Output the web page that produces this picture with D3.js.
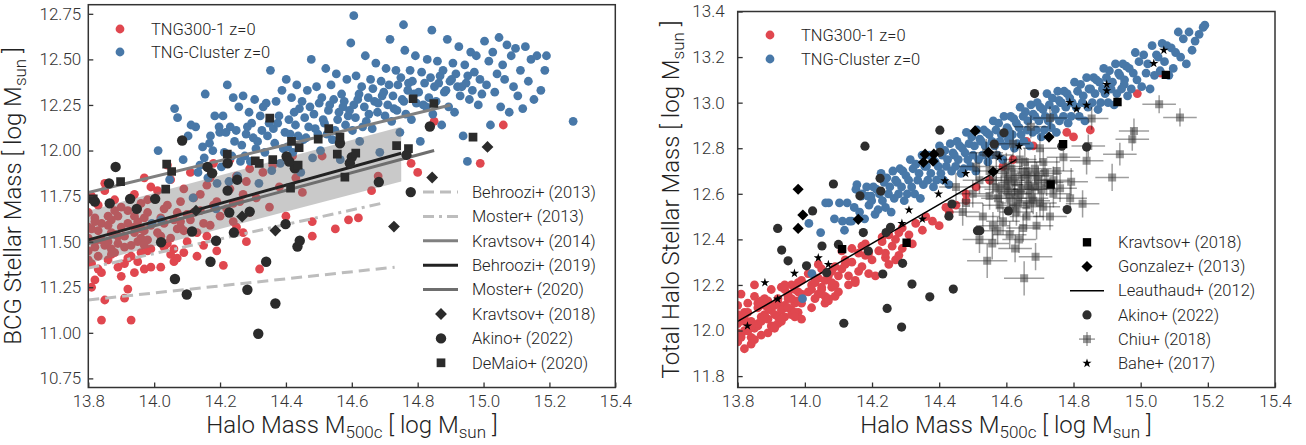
<!DOCTYPE html>
<html>
<head>
<meta charset="utf-8">
<script src="https://cdn.jsdelivr.net/npm/d3@7"></script>
<style>
  body { margin: 0; background: #fff; }
  svg { font-family: Roboto, "Open Sans", sans-serif; font-weight: 300; }
</style>
</head>
<body>
<svg id="chart" width="1306" height="445"></svg>
<script>
// ---- data ----
// TNG halos: [log M500c, log M_BCG, log M_star,total]
const tng300 = [
  [13.80,11.52,12.03],[13.81,11.38,11.98],[13.82,11.61,12.08],[13.80,11.45,11.95],[13.83,11.70,12.12],
  [13.84,11.33,11.97],[13.81,11.57,12.05],[13.85,11.48,12.01],[13.86,11.64,12.10],[13.82,11.29,11.92],
  [13.87,11.55,12.06],[13.83,11.42,12.00],[13.88,11.73,12.14],[13.84,11.60,12.04],[13.89,11.36,11.99],
  [13.80,11.66,12.11],[13.86,11.50,12.02],[13.85,11.18,11.96],[13.88,11.44,12.07],[13.90,11.58,12.09],
  [13.81,11.75,12.16],[13.87,11.62,12.13],[13.82,11.47,12.00],[13.89,11.53,12.05],[13.84,11.07,11.94],
  [13.86,11.40,12.03],[13.83,11.56,12.08],[13.88,11.67,12.11],[13.90,11.31,12.02],[13.80,11.40,11.99],
  [13.85,11.78,12.15],[13.87,11.46,12.04],[13.82,11.63,12.06],[13.89,11.49,12.10],[13.81,11.25,11.97],
  [13.86,11.59,12.12],[13.84,11.51,12.02],[13.90,11.69,12.18],[13.83,11.35,12.00],[13.88,11.54,12.06],
  [13.85,11.82,12.20],[13.87,11.43,11.98],[13.80,11.58,12.07],[13.89,11.64,12.13],[13.82,11.50,12.04],
  [13.91,11.47,12.07],[13.92,11.60,12.12],[13.93,11.07,12.04],[13.94,11.55,12.10],[13.95,11.68,12.16],
  [13.91,11.38,12.02],[13.96,11.52,12.09],[13.92,11.24,12.06],[13.97,11.63,12.13],[13.93,11.74,12.19],
  [13.98,11.45,12.08],[13.94,11.58,12.11],[13.99,11.36,12.05],[13.95,11.50,12.14],[13.96,11.71,12.20],
  [13.92,11.41,12.03],[13.97,11.56,12.12],[13.98,11.66,12.17],[13.93,11.48,12.09],[13.99,11.80,12.22],
  [13.94,11.33,12.06],[13.95,11.61,12.15],[13.91,11.53,12.11],[13.96,11.44,12.07],[13.97,11.85,12.18],
  [13.98,11.51,12.13],[13.99,11.59,12.16],[13.92,11.67,12.14],[13.93,11.42,12.05],[13.94,11.64,12.18],
  [13.95,11.39,12.10],[13.96,11.57,12.14],[13.97,11.48,12.08],[13.98,11.73,12.21],[13.99,11.46,12.12],
  [13.91,11.19,12.01],[13.94,11.76,12.20],[13.97,11.35,12.06],
  [14.01,11.55,12.17],[14.02,11.63,12.20],[14.03,11.47,12.14],[14.04,11.70,12.23],[14.05,11.52,12.18],
  [14.06,11.39,12.12],[14.07,11.66,12.24],[14.08,11.58,12.19],[14.09,11.44,12.15],[14.01,11.78,12.25],
  [14.02,11.36,12.10],[14.03,11.60,12.21],[14.04,11.49,12.16],[14.05,11.84,12.27],[14.06,11.62,12.22],
  [14.07,11.41,12.13],[14.08,11.72,12.26],[14.09,11.56,12.20],[14.10,11.65,12.24],[14.02,11.53,12.18],
  [14.04,11.92,12.29],[14.06,11.46,12.15],[14.08,11.61,12.21],[14.10,11.50,12.17],[14.03,11.68,12.22],
  [14.05,11.43,12.19],[14.07,11.57,12.14],[14.09,11.79,12.28],
  [14.11,11.62,12.27],[14.12,11.74,12.31],[14.13,11.55,12.24],[14.14,11.67,12.30],[14.15,11.48,12.22],
  [14.16,11.81,12.34],[14.17,11.59,12.28],[14.18,11.70,12.33],[14.19,11.45,12.25],[14.20,11.64,12.31],
  [14.11,11.88,12.35],[14.13,11.42,12.20],[14.14,11.76,12.36],[14.16,11.53,12.26],[14.18,11.93,12.38],
  [14.12,11.66,12.29],[14.15,11.60,12.21],[14.17,11.85,12.37],[14.19,11.72,12.34],[14.21,11.37,12.24],
  [14.22,11.68,12.35],[14.23,11.79,12.39],[14.24,11.61,12.32],[14.25,11.86,12.42],[14.26,11.72,12.37],
  [14.27,11.55,12.31],[14.28,11.83,12.43],[14.29,11.66,12.36],[14.23,11.95,12.41],[14.25,11.58,12.29],
  [14.27,11.76,12.40],[14.29,11.90,12.45],[14.24,11.71,12.34],[14.28,11.50,12.33],
  [14.31,11.74,12.42],[14.32,11.35,12.38],[14.33,11.88,12.47],[14.35,11.69,12.44],[14.36,11.92,12.50],
  [14.38,11.80,12.48],[14.40,11.64,12.46],[14.42,11.97,12.54],[14.43,11.85,12.52],[14.45,11.77,12.55],
  [14.48,11.53,12.57],[14.48,11.61,12.60],[14.51,11.97,12.63],[14.55,11.57,12.66],[14.59,11.62,12.72],
  [14.62,11.63,12.75],[14.66,11.78,12.83],[14.68,11.86,12.81],
  [14.78,11.93,12.87],[14.85,12.16,12.88],[14.99,11.93,13.04],[15.06,12.14,13.13],[14.80,11.88,12.85]
];

const tngCluster = [
  [14.012,12.00,12.47],[14.047,11.84,12.43],[14.071,12.18,12.56],[14.088,11.95,12.49],[14.103,12.08,12.56],
  [14.118,11.74,12.44],[14.126,12.13,12.56],[14.139,11.92,12.48],[14.147,12.02,12.54],[14.155,12.31,12.64],
  [14.163,11.85,12.52],[14.171,12.08,12.60],[14.178,12.00,12.49],[14.184,12.19,12.63],[14.191,11.82,12.55],
  [14.197,12.13,12.59],[13.993,11.60,12.14],[14.062,12.23,12.56],[14.133,11.88,12.48],[14.168,12.04,12.59],
  [14.188,11.68,12.59],[14.112,12.14,12.48],[14.152,11.96,12.62],[14.199,12.10,12.57],[14.021,11.62,12.25],
  [14.204,11.91,12.63],[14.209,12.19,12.51],[14.213,11.99,12.62],[14.218,12.10,12.53],[14.222,12.36,12.60],
  [14.227,11.83,12.69],[14.231,12.13,12.57],[14.236,11.97,12.65],[14.240,12.29,12.54],[14.244,12.05,12.67],
  [14.249,12.11,12.60],[14.253,11.86,12.63],[14.257,12.24,12.52],[14.262,11.94,12.70],[14.266,12.03,12.58],
  [14.270,12.30,12.66],[14.275,11.97,12.65],[14.279,12.09,12.60],[14.283,12.13,12.71],[14.288,12.21,12.63],
  [14.292,11.94,12.70],[14.296,12.15,12.57],[14.301,12.07,12.68],[14.305,12.28,12.60],[14.309,12.01,12.66],
  [14.314,12.05,12.75],[14.318,11.82,12.63],[14.322,12.19,12.71],[14.327,12.11,12.60],[14.331,12.24,12.73],
  [14.336,11.99,12.66],[14.340,12.26,12.69],[14.344,12.08,12.58],[14.349,12.15,12.77],[14.353,12.44,12.64],
  [14.357,11.89,12.72],[14.362,12.12,12.72],[14.366,12.04,12.66],[14.370,12.27,12.77],[14.375,12.15,12.69],
  [14.379,12.19,12.76],[14.383,11.93,12.63],[14.388,12.33,12.74],[14.392,12.01,12.66],[14.397,12.10,12.72],
  [14.401,12.39,12.81],[14.405,12.02,12.69],[14.409,12.17,12.77],[14.413,12.09,12.66],[14.417,12.29,12.79],
  [14.421,11.99,12.72],[14.425,12.21,12.75],[14.429,12.14,12.64],[14.433,12.36,12.82],[14.437,12.08,12.70],
  [14.441,12.23,12.78],[14.445,11.88,12.77],[14.449,12.27,12.72],[14.453,12.06,12.83],[14.457,12.18,12.75],
  [14.461,12.07,12.81],[14.465,12.33,12.69],[14.469,12.13,12.80],[14.473,12.24,12.71],[14.477,12.50,12.78],
  [14.481,11.96,12.87],[14.485,12.20,12.75],[14.489,12.12,12.82],[14.493,12.35,12.72],[14.497,12.09,12.85],
  [14.501,12.26,12.77],[14.505,12.00,12.81],[14.509,12.29,12.70],[14.513,12.17,12.88],[14.517,12.15,12.75],
  [14.521,12.45,12.84],[14.525,12.09,12.83],[14.529,12.22,12.77],[14.533,12.25,12.88],[14.537,12.36,12.81],
  [14.541,12.06,12.87],[14.545,12.28,12.74],[14.549,12.11,12.86],[14.553,12.42,12.77],[14.557,12.17,12.83],
  [14.561,12.21,12.92],[14.565,11.95,12.81],[14.569,12.31,12.88],[14.573,12.24,12.77],[14.577,12.27,12.91],
  [14.581,12.14,12.83],[14.585,12.39,12.86],[14.589,12.19,12.75],[14.593,12.22,12.94],[14.597,12.59,12.81],
  [14.602,12.11,12.89],[14.606,12.25,12.88],[14.611,12.18,12.83],[14.613,12.41,12.94],[14.618,12.28,12.86],
  [14.622,12.31,12.93],[14.624,12.05,12.80],[14.630,12.35,12.91],[14.633,12.13,12.82],[14.638,12.24,12.89],
  [14.641,12.52,12.98],[14.644,12.16,12.86],[14.650,12.29,12.94],[14.652,12.20,12.83],[14.657,12.39,12.96],
  [14.662,12.12,12.88],[14.664,12.34,12.92],[14.669,12.27,12.81],[14.673,12.48,12.99],[14.678,12.21,12.87],
  [14.680,12.26,12.95],[14.685,11.99,12.94],[14.689,12.38,12.88],[14.692,12.30,13.00],[14.697,12.32,12.92],
  [14.701,12.19,12.98],[14.704,12.45,12.85],[14.709,12.25,12.97],[14.713,12.36,12.88],[14.716,12.61,12.94],
  [14.721,12.16,13.04],[14.725,12.30,12.92],[14.728,12.23,12.99],[14.734,12.44,12.89],[14.737,12.22,13.02],
  [14.740,12.36,12.94],[14.746,12.10,12.97],[14.749,12.40,12.87],[14.753,12.28,13.05],[14.758,12.27,12.92],
  [14.761,12.55,13.00],[14.764,12.20,13.00],[14.770,12.33,12.94],[14.772,12.37,13.05],[14.777,12.44,12.98],
  [14.781,12.17,13.04],[14.784,12.38,12.91],[14.789,12.31,13.02],[14.793,12.52,12.94],[14.796,12.26,13.00],
  [14.606,12.74,12.84],[14.757,12.69,13.01],
  [14.803,12.32,13.09],[14.808,12.05,12.98],[14.812,12.43,13.05],[14.817,12.25,12.94],[14.821,12.37,13.08],
  [14.826,12.24,13.00],[14.829,12.50,13.03],[14.834,12.29,12.92],[14.839,12.40,13.11],[14.843,12.66,12.98],
  [14.846,12.20,13.06],[14.851,12.35,13.06],[14.856,12.27,13.00],[14.860,12.49,13.11],[14.864,12.37,13.04],
  [14.868,12.41,13.10],[14.873,12.14,12.97],[14.877,12.44,13.09],[14.881,12.32,13.00],[14.886,12.33,13.06],
  [14.890,12.61,13.15],[14.894,12.24,13.04],[14.898,12.38,13.11],[14.903,12.39,13.00],[14.907,12.48,13.14],
  [14.912,12.21,13.06],[14.916,12.42,13.09],[14.921,12.35,12.99],[14.925,12.57,13.17],[14.929,12.30,13.04],
  [14.934,12.35,13.13],[14.938,12.08,13.12],[14.943,12.47,13.06],[14.947,12.37,13.17],[14.952,12.41,13.10],
  [14.957,12.28,13.16],[14.961,12.54,13.03],[14.966,12.33,13.15],[14.972,12.43,13.06],[14.978,12.52,13.13],
  [14.984,12.25,13.22],[14.989,12.39,13.10],[14.995,12.31,13.18],[14.951,11.94,13.08],
  [15.003,12.60,13.07],[15.009,12.36,13.21],[15.016,12.49,13.13],[15.021,12.14,13.17],[15.028,12.54,13.06],
  [15.034,12.32,13.25],[15.041,12.42,13.12],[15.047,12.62,13.21],[15.052,12.24,13.20],[15.058,12.47,13.14],
  [15.064,12.39,13.26],[15.071,12.58,13.18],[15.078,12.21,13.25],[15.084,12.52,13.12],[15.091,12.35,13.24],
  [15.097,12.56,13.15],[15.104,12.30,13.22],[15.112,12.44,13.31],[15.119,12.23,13.20],[15.127,12.57,13.28],
  [15.136,12.38,13.17],[15.144,12.50,13.31],[15.153,12.28,13.23],[15.162,12.52,13.27],[15.174,12.33,13.30],
  [15.186,12.44,13.33],[15.191,12.52,13.34],[15.272,12.16,null]
];

// left panel: relations [x, y] endpoints
const behroozi2013 = [[13.8, 11.18], [14.73, 11.36]];
const moster2013 = [[13.8, 11.355], [14.69, 11.71]];
const kravtsov2014 = [[13.8, 11.77], [14.9, 12.25]];
const behroozi2019 = [[13.8, 11.51], [14.75, 11.985]];
const moster2020 = [[13.8, 11.49], [14.85, 12.0]];
const behroozi2019Band = [[13.8, 11.38, 11.67], [14.75, 11.83, 12.13]]; // x, lo, hi

const kravtsov2018BCG = [[14.127,11.67],[14.267,11.638],[14.368,11.561],[14.728,11.583],[14.844,11.852],[15.012,12.02]];
const akino2022BCG = [
  [13.82,11.72],[13.865,11.71],[13.883,11.91],[13.863,11.82],[13.927,11.735],[13.947,11.68],[14.003,11.735],
  [14.085,12.055],[14.162,11.91],[14.176,11.876],[14.223,11.93],[14.223,11.78],[14.252,11.84],[14.228,11.66],
  [14.29,11.665],[14.402,11.967],[14.427,11.903],[14.021,11.497],[14.115,11.556],[14.171,11.39],[14.063,11.295],
  [14.099,11.21],[14.188,11.505],[14.242,11.55],[14.283,11.236],[14.34,11.39],[14.316,10.995],[14.368,11.161],
  [14.399,11.596],[14.435,11.473],[14.442,11.505],[14.837,12.132],[14.564,12.04],[14.6,11.964],[14.594,11.93],
  [14.682,11.827],[14.766,11.976],[14.41,11.94],[14.779,11.772]
];
const demaio2020BCG = [
  [13.815,11.735],[13.898,11.83],[14.038,11.925],[14.053,11.885],[14.035,11.788],[14.222,11.98],[14.307,11.943],
  [14.319,11.93],[14.36,11.95],[14.351,12.178],[14.417,12.05],[14.44,12.016],[14.437,11.92],[14.414,11.794],
  [14.786,12.284],[14.849,12.258],[14.53,12.12],[14.498,12.063],[14.564,12.073],[14.556,11.98],[14.612,11.986],
  [14.736,12.027],[14.772,12.011],[14.579,11.854],[14.968,12.073]
];

// right panel
const leauthaud2012 = [[13.8, 12.04], [14.63, 12.75]];
const kravtsov2018Tot = [[14.111,12.357],[14.303,12.385],[14.732,12.641],[14.769,12.818],[14.931,13.003],[15.075,13.122]];
const gonzalez2013 = [
  [13.98,12.62],[13.994,12.507],[13.98,12.448],[14.159,12.488],[14.358,12.774],[14.384,12.774],
  [14.353,12.738],[14.382,12.743],[14.507,12.876],[14.547,12.782],[14.561,12.697],[14.727,12.849]
];
const akino2022Tot = [
  [14.179,12.809],[14.402,12.879],[14.402,12.782],[14.085,12.643],[14.224,12.668],[14.226,12.612],[14.164,12.591],
  [14.023,12.525],[14.429,12.502],[13.919,12.448],[13.931,12.353],[13.95,12.306],[14.005,12.284],[14.051,12.371],
  [14.065,12.254],[14.1,12.378],[14.174,12.43],[14.189,12.349],[14.242,12.43],[14.255,12.453],[14.291,12.295],
  [14.232,12.248],[14.319,12.204],[14.245,12.097],[14.116,12.032],[14.288,12.015],[14.372,12.148],[14.442,12.182],
  [14.438,12.555],[14.514,12.438],[14.684,13.04],[14.593,12.868],[14.564,12.818],[14.765,12.809],[14.839,12.805],
  [14.606,12.525],[14.781,12.531],[14.521,12.438]
];
// Chiu+ (2018): [x, y, xerr, yerr]
const chiu2018 = [
  [15.055,12.993,0.05,0.04],[15.117,12.935,0.05,0.04],[14.98,12.876,0.045,0.055],[14.975,12.839,0.05,0.05],
  [14.938,12.774,0.05,0.05],[14.915,12.672,0.05,0.06],[14.854,12.931,0.05,0.05],[14.844,12.81,0.05,0.05],
  [14.839,12.745,0.05,0.06],[14.793,12.653,0.05,0.06],[14.73,12.933,0.05,0.05],[14.673,12.894,0.05,0.05],
  [14.827,12.556,0.05,0.06],[14.76,12.624,0.05,0.06],[14.71,12.543,0.05,0.06],[14.543,12.306,0.06,0.075],
  [14.558,12.382,0.05,0.07],[14.626,12.36,0.05,0.06],[14.638,12.4,0.05,0.06],[14.687,12.324,0.05,0.06],
  [14.653,12.229,0.06,0.075],[14.574,12.438,0.05,0.06],
  [14.50,12.60,0.05,0.06],[14.52,12.66,0.05,0.06],[14.55,12.70,0.05,0.06],[14.57,12.63,0.05,0.06],
  [14.60,12.72,0.05,0.06],[14.62,12.67,0.05,0.06],[14.64,12.75,0.05,0.06],[14.66,12.70,0.05,0.06],
  [14.58,12.55,0.05,0.06],[14.61,12.58,0.05,0.06],[14.63,12.52,0.05,0.06],[14.67,12.62,0.05,0.06],
  [14.69,12.68,0.05,0.06],[14.71,12.74,0.05,0.06],[14.53,12.50,0.05,0.06],[14.56,12.46,0.05,0.06],
  [14.59,12.48,0.05,0.06],[14.65,12.45,0.05,0.06],[14.68,12.57,0.05,0.06],[14.72,12.65,0.05,0.06],
  [14.74,12.60,0.05,0.06],[14.48,12.56,0.05,0.06],[14.51,12.72,0.05,0.06],[14.54,12.78,0.05,0.06],
  [14.70,12.80,0.05,0.06],[14.62,12.82,0.05,0.06],[14.57,12.77,0.05,0.06],[14.66,12.50,0.05,0.06],
  [14.60,12.64,0.05,0.06],[14.64,12.60,0.05,0.06],[14.75,12.70,0.05,0.06],[14.77,12.76,0.05,0.06],
  [14.79,12.58,0.05,0.06],[14.55,12.59,0.05,0.06],[14.47,12.52,0.05,0.06],[14.45,12.63,0.05,0.06],
  [14.69,12.46,0.05,0.06],[14.61,12.42,0.05,0.06],[14.52,12.40,0.05,0.06],[14.73,12.50,0.05,0.06],
  [14.585,12.62,0.05,0.06],[14.605,12.66,0.05,0.06],[14.625,12.60,0.05,0.06],[14.645,12.68,0.05,0.06],
  [14.665,12.64,0.05,0.06],[14.685,12.71,0.05,0.06],[14.705,12.62,0.05,0.06],[14.615,12.71,0.05,0.06],
  [14.635,12.56,0.05,0.06],[14.655,12.74,0.05,0.06],[14.675,12.58,0.05,0.06],[14.695,12.66,0.05,0.06],
  [14.715,12.69,0.05,0.06],[14.595,12.69,0.05,0.06],[14.575,12.58,0.05,0.06],[14.645,12.62,0.05,0.06],
  [14.625,12.65,0.05,0.06],[14.665,12.68,0.05,0.06],[14.605,12.61,0.05,0.06],[14.685,12.63,0.05,0.06],
  [14.56,12.66,0.05,0.06],[14.74,12.66,0.05,0.06],[14.62,12.54,0.05,0.06],[14.66,12.55,0.05,0.06],
  [14.70,12.56,0.05,0.06]
];
const bahe2017 = [
  [13.829,12.02],[13.881,12.21],[13.919,12.138],[13.969,12.251],[14.04,12.319],[14.07,12.29],[14.289,12.47],
  [14.31,12.529],[14.35,12.489],[14.398,12.599],[14.417,12.657],[14.479,12.689],[14.579,12.762],[14.638,12.809],
  [14.789,13.001],[14.809,12.972],[14.839,12.989],[14.899,13.052],[14.899,13.08],[15.039,13.172],[15.069,13.23]
];

const xTicks = [13.8, 14.0, 14.2, 14.4, 14.6, 14.8, 15.0, 15.2, 15.4];
const yTicksL = [10.75, 11.0, 11.25, 11.5, 11.75, 12.0, 12.25, 12.5, 12.75];
const yTicksR = [11.8, 12.0, 12.2, 12.4, 12.6, 12.8, 13.0, 13.2, 13.4];
const simLabels = ['TNG300-1 z=0', 'TNG-Cluster z=0'];
const legendL = ['Behroozi+ (2013)', 'Moster+ (2013)', 'Kravtsov+ (2014)', 'Behroozi+ (2019)', 'Moster+ (2020)',
                 'Kravtsov+ (2018)', 'Akino+ (2022)', 'DeMaio+ (2020)'];
const legendR = ['Kravtsov+ (2018)', 'Gonzalez+ (2013)', 'Leauthaud+ (2012)', 'Akino+ (2022)', 'Chiu+ (2018)', 'Bahe+ (2017)'];

// ---- drawing ----
const red = '#e0474f', blue = '#4878a8', ink = '#2b2b2b';
const svg = d3.select('#chart');

const xL = d3.scaleLinear().domain([13.8, 15.4]).range([88.3, 615.3]);
const yL = d3.scaleLinear().domain([10.7, 12.8]).range([387.5, 4.7]);
const xR = d3.scaleLinear().domain([13.8, 15.4]).range([737.7, 1275]);
const yR = d3.scaleLinear().domain([11.75, 13.4]).range([387.5, 11.5]);

const sq = s => d3.symbol().type(d3.symbolSquare).size(s)();
const star = d3.symbol().type(d3.symbolStar).size(26)();

function clip(id, x, y) {
  svg.append('clipPath').attr('id', id).append('rect')
    .attr('x', x.range()[0]).attr('y', y.range()[1])
    .attr('width', x.range()[1] - x.range()[0])
    .attr('height', y.range()[0] - y.range()[1]);
  return svg.append('g').attr('clip-path', `url(#${id})`);
}

function line(g, pts, x, y, color, w, dash) {
  g.append('path')
    .attr('d', d3.line().x(d => x(d[0])).y(d => y(d[1]))(pts))
    .attr('fill', 'none').attr('stroke', color).attr('stroke-width', w)
    .attr('stroke-dasharray', dash || null);
}

function axes(x, y, yTicks, yFmt, yPad) {
  const ax = svg.append('g').attr('transform', `translate(0,${y.range()[0]})`)
    .call(d3.axisBottom(x).tickValues(xTicks).tickFormat(d3.format('.1f')).tickSize(-5).tickPadding(7));
  const ay = svg.append('g').attr('transform', `translate(${x.range()[0]},0)`)
    .call(d3.axisLeft(y).tickValues(yTicks).tickFormat(d3.format(yFmt)).tickSize(-5).tickPadding(yPad));
  [ax, ay].forEach(a => {
    a.attr('font-family', null).attr('font-size', 17);
    a.select('.domain').remove();
    a.selectAll('line').attr('stroke', '#333').attr('stroke-width', 1.3);
    a.selectAll('text').attr('fill', '#333');
  });
  svg.append('rect')
    .attr('x', x.range()[0]).attr('y', y.range()[1])
    .attr('width', x.range()[1] - x.range()[0]).attr('height', y.range()[0] - y.range()[1])
    .attr('fill', 'none').attr('stroke', '#333').attr('stroke-width', 1.5);
}

function axisLabel(text, sub1, rest, sub2, end, x, y, rot) {
  const t = svg.append('text').attr('font-size', 24).attr('fill', '#222')
    .attr('text-anchor', 'middle')
    .attr('transform', `translate(${x},${y})` + (rot ? ' rotate(-90)' : ''));
  t.append('tspan').text(text);
  if (sub1) t.append('tspan').attr('font-size', 17).attr('dy', 5).text(sub1);
  t.append('tspan').attr('dy', sub1 ? -5 : 0).text(rest);
  t.append('tspan').attr('font-size', 17).attr('dy', 5).text(sub2);
  t.append('tspan').attr('dy', -5).text(end);
}

function legendText(x, y, s) {
  svg.append('text').attr('x', x).attr('y', y).attr('dy', '0.35em')
    .attr('font-size', 16.5).attr('fill', '#222').text(s);
}

// ===== left panel =====
const gL = clip('clipL', xL, yL);
gL.append('g').selectAll('circle').data(tng300).join('circle')
  .attr('cx', d => xL(d[0])).attr('cy', d => yL(d[1])).attr('r', 4.4).attr('fill', red);
gL.append('g').selectAll('circle').data(tngCluster).join('circle')
  .attr('cx', d => xL(d[0])).attr('cy', d => yL(d[1])).attr('r', 4.4).attr('fill', blue);

gL.append('path')
  .attr('d', d3.area().x(d => xL(d[0])).y0(d => yL(d[1])).y1(d => yL(d[2]))(behroozi2019Band))
  .attr('fill', '#777').attr('opacity', 0.4);

line(gL, behroozi2013, xL, yL, '#bdbdbd', 3, '11,6');
line(gL, moster2013, xL, yL, '#bdbdbd', 3, '11,5,3,5');
line(gL, kravtsov2014, xL, yL, '#808080', 3);
line(gL, moster2020, xL, yL, '#6e6e6e', 3);
line(gL, behroozi2019, xL, yL, '#222', 3);

gL.append('g').selectAll('path').data(kravtsov2018BCG).join('path')
  .attr('d', sq(70)).attr('fill', ink)
  .attr('transform', d => `translate(${xL(d[0])},${yL(d[1])}) rotate(45)`);
gL.append('g').selectAll('circle').data(akino2022BCG).join('circle')
  .attr('cx', d => xL(d[0])).attr('cy', d => yL(d[1])).attr('r', 5.2).attr('fill', ink);
gL.append('g').selectAll('path').data(demaio2020BCG).join('path')
  .attr('d', sq(76)).attr('fill', ink)
  .attr('transform', d => `translate(${xL(d[0])},${yL(d[1])})`);

axes(xL, yL, yTicksL, '.2f', 7);

// legends left
svg.append('circle').attr('cx', 120).attr('cy', 29).attr('r', 4.4).attr('fill', red);
svg.append('circle').attr('cx', 120).attr('cy', 52).attr('r', 4.4).attr('fill', blue);
legendText(151, 29, simLabels[0]);
legendText(151, 52, simLabels[1]);

const lgY = d3.range(8).map(i => 192 + i * 24.4);
const lx0 = 423, lx1 = 458, lmx = 441;
const lineStyles = [['#bdbdbd', '11,6'], ['#bdbdbd', '11,5,3,5'], ['#808080', null], ['#222', null], ['#6e6e6e', null]];
lineStyles.forEach((s, i) => {
  svg.append('line').attr('x1', lx0).attr('x2', lx1).attr('y1', lgY[i]).attr('y2', lgY[i])
    .attr('stroke', s[0]).attr('stroke-width', 3).attr('stroke-dasharray', s[1]);
});
svg.append('path').attr('d', sq(70)).attr('fill', ink).attr('transform', `translate(${lmx},${lgY[5]}) rotate(45)`);
svg.append('circle').attr('cx', lmx).attr('cy', lgY[6]).attr('r', 5.2).attr('fill', ink);
svg.append('path').attr('d', sq(76)).attr('fill', ink).attr('transform', `translate(${lmx},${lgY[7]})`);
legendL.forEach((s, i) => legendText(472, lgY[i], s));

axisLabel('BCG Stellar Mass [ log M', null, '', 'sun', ' ]', 21, 196, true);
axisLabel('Halo Mass M', '500c', ' [ log M', 'sun', ' ]', 352, 433, false);

// ===== right panel =====
const gR = clip('clipR', xR, yR);
gR.append('g').selectAll('circle').data(tng300).join('circle')
  .attr('cx', d => xR(d[0])).attr('cy', d => yR(d[2])).attr('r', 4.4).attr('fill', red);
gR.append('g').selectAll('circle').data(tngCluster.filter(d => d[2] != null)).join('circle')
  .attr('cx', d => xR(d[0])).attr('cy', d => yR(d[2])).attr('r', 4.4).attr('fill', blue);

line(gR, leauthaud2012, xR, yR, '#000', 1.5);

const chiuG = gR.append('g');
chiuG.selectAll('line.h').data(chiu2018).join('line').attr('class', 'h')
  .attr('x1', d => xR(d[0] - d[2])).attr('x2', d => xR(d[0] + d[2]))
  .attr('y1', d => yR(d[1])).attr('y2', d => yR(d[1]))
  .attr('stroke', '#000').attr('stroke-opacity', 0.38).attr('stroke-width', 1.5);
chiuG.selectAll('line.v').data(chiu2018).join('line').attr('class', 'v')
  .attr('x1', d => xR(d[0])).attr('x2', d => xR(d[0]))
  .attr('y1', d => yR(d[1] - d[3])).attr('y2', d => yR(d[1] + d[3]))
  .attr('stroke', '#000').attr('stroke-opacity', 0.38).attr('stroke-width', 1.5);
chiuG.selectAll('path').data(chiu2018).join('path')
  .attr('d', sq(64)).attr('fill', '#444').attr('fill-opacity', 0.55)
  .attr('transform', d => `translate(${xR(d[0])},${yR(d[1])})`);

gR.append('g').selectAll('circle').data(akino2022Tot).join('circle')
  .attr('cx', d => xR(d[0])).attr('cy', d => yR(d[1])).attr('r', 4.6).attr('fill', '#2e2e2e');
gR.append('g').selectAll('path').data(kravtsov2018Tot).join('path')
  .attr('d', sq(70)).attr('fill', '#000')
  .attr('transform', d => `translate(${xR(d[0])},${yR(d[1])})`);
gR.append('g').selectAll('path').data(gonzalez2013).join('path')
  .attr('d', sq(62)).attr('fill', '#000')
  .attr('transform', d => `translate(${xR(d[0])},${yR(d[1])}) rotate(45)`);
gR.append('g').selectAll('path').data(bahe2017).join('path')
  .attr('d', star).attr('fill', '#000')
  .attr('transform', d => `translate(${xR(d[0])},${yR(d[1])})`);

axes(xR, yR, yTicksR, '.1f', 13);

svg.append('circle').attr('cx', 770).attr('cy', 35).attr('r', 4.4).attr('fill', red);
svg.append('circle').attr('cx', 770).attr('cy', 59).attr('r', 4.4).attr('fill', blue);
legendText(801, 35, simLabels[0]);
legendText(801, 59, simLabels[1]);

const rgY = d3.range(6).map(i => 242.3 + i * 24.2);
const rmx = 1087;
svg.append('path').attr('d', sq(70)).attr('fill', '#000').attr('transform', `translate(${rmx},${rgY[0]})`);
svg.append('path').attr('d', sq(62)).attr('fill', '#000').attr('transform', `translate(${rmx},${rgY[1]}) rotate(45)`);
svg.append('line').attr('x1', 1070).attr('x2', 1104).attr('y1', rgY[2]).attr('y2', rgY[2])
  .attr('stroke', '#000').attr('stroke-width', 1.5);
svg.append('circle').attr('cx', rmx).attr('cy', rgY[3]).attr('r', 4.6).attr('fill', '#2e2e2e');
svg.append('line').attr('x1', rmx - 8).attr('x2', rmx + 8).attr('y1', rgY[4]).attr('y2', rgY[4])
  .attr('stroke', '#000').attr('stroke-opacity', 0.38).attr('stroke-width', 1.5);
svg.append('line').attr('x1', rmx).attr('x2', rmx).attr('y1', rgY[4] - 7).attr('y2', rgY[4] + 7)
  .attr('stroke', '#000').attr('stroke-opacity', 0.38).attr('stroke-width', 1.5);
svg.append('path').attr('d', sq(64)).attr('fill', '#444').attr('fill-opacity', 0.55)
  .attr('transform', `translate(${rmx},${rgY[4]})`);
svg.append('path').attr('d', star).attr('fill', '#000').attr('transform', `translate(${rmx},${rgY[5]})`);
legendR.forEach((s, i) => legendText(1118, rgY[i], s));

axisLabel('Total Halo Stellar Mass [ log M', null, '', 'sun', ' ]', 679, 199.5, true);
axisLabel('Halo Mass M', '500c', ' [ log M', 'sun', ' ]', 1006, 433, false);
</script>
</body>
</html>
